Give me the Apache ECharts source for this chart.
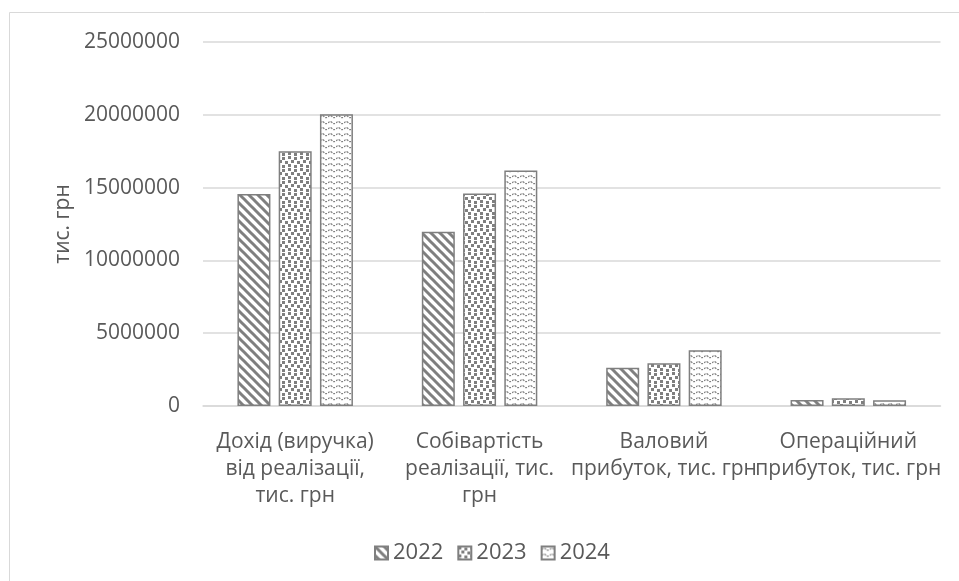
<!DOCTYPE html>
<html>
<head>
<meta charset="utf-8">
<script src="https://cdn.jsdelivr.net/npm/echarts@6/dist/echarts.min.js"></script>
<style>
html,body{margin:0;padding:0;background:#fff;}
#chart{width:959px;height:581px;}
</style>
</head>
<body>
<div id="chart"></div>
<script>
const categories = [
  "Дохід (виручка)\nвід реалізації,\nтис. грн",
  "Собівартість\nреалізації, тис.\nгрн",
  "Валовий\nприбуток, тис. грн",
  "Операційний\nприбуток, тис. грн"
];
const seriesNames = ["2022", "2023", "2024"];
const values2022 = [14560000, 11960000, 2630000, 410000];
const values2023 = [17500000, 14600000, 2930000, 530000];
const values2024 = [20040000, 16180000, 3830000, 390000];
const yTicks = { min: 0, max: 25000000, interval: 5000000 };

const GRAY = '#7f7f7f';
function makeCanvas(w, h) {
  const c = document.createElement('canvas');
  c.width = w; c.height = h;
  const ctx = c.getContext('2d');
  ctx.fillStyle = '#fff';
  ctx.fillRect(0, 0, w, h);
  return [c, ctx];
}
function stripePattern() {
  const [c, ctx] = makeCanvas(9, 9);
  ctx.strokeStyle = GRAY;
  ctx.lineWidth = 3;
  for (let k = -1; k <= 1; k++) {
    ctx.beginPath();
    ctx.moveTo(k * 9 - 2, -2);
    ctx.lineTo(k * 9 + 11, 11);
    ctx.stroke();
  }
  return c;
}
function squarePattern() {
  const [c, ctx] = makeCanvas(12, 12);
  ctx.fillStyle = GRAY;
  const pts = [[0,0],[6,1],[3,4],[9,5],[0,8],[6,9]];
  pts.forEach(p => ctx.fillRect(p[0], p[1], 3, 3));
  return c;
}
function wavePattern() {
  const [c, ctx] = makeCanvas(8, 6);
  ctx.strokeStyle = GRAY;
  ctx.lineWidth = 1.1;
  ctx.setLineDash([2, 1]);
  ctx.beginPath();
  ctx.moveTo(0, 3);
  ctx.quadraticCurveTo(2, 0.5, 4, 2.5);
  ctx.quadraticCurveTo(6, 4.5, 8, 3);
  ctx.stroke();
  return c;
}
const patterns = [stripePattern(), squarePattern(), wavePattern()];
const dataSets = [values2022, values2023, values2024];

const chart = echarts.init(document.getElementById('chart'), null, { renderer: 'canvas' });
const font = '"Open Sans", "Noto Sans", sans-serif';
chart.setOption({
  animation: false,
  backgroundColor: '#fff',
  textStyle: { fontFamily: font },
  graphic: [{
    type: 'rect', shape: { x: 9.5, y: 12.5, width: 970, height: 600 },
    style: { fill: 'none', stroke: '#d9d9d9', lineWidth: 1 }, silent: true
  }],
  grid: { left: 203, right: 18.5, top: 42, bottom: 175 },
  legend: {
    top: 537, left: 369,
    itemWidth: 13, itemHeight: 13, itemGap: 14,
    icon: 'rect',
    textStyle: { fontSize: 22, color: '#595959', fontFamily: font },
    data: seriesNames
  },
  xAxis: {
    type: 'category', data: categories,
    axisLine: { lineStyle: { color: '#d9d9d9', width: 1.5 } },
    axisTick: { show: false },
    axisLabel: { interval: 0, color: '#595959', fontSize: 21, lineHeight: 27, margin: 23, fontFamily: font }
  },
  yAxis: {
    type: 'value', min: yTicks.min, max: yTicks.max, interval: yTicks.interval,
    name: 'тис. грн', nameLocation: 'middle', nameRotate: 90, nameGap: 129,
    nameTextStyle: { fontSize: 21, color: '#595959', fontFamily: font },
    axisLine: { show: false }, axisTick: { show: false },
    axisLabel: { color: '#595959', fontSize: 21, margin: 23, fontFamily: font, formatter: v => String(v) },
    splitLine: { lineStyle: { color: '#d9d9d9', width: 1.5 } }
  },
  series: seriesNames.map((n, i) => ({
    name: n, type: 'bar', data: dataSets[i],
    barWidth: 33, barGap: '25%',
    itemStyle: { color: { image: patterns[i], repeat: 'repeat' }, borderColor: GRAY, borderWidth: 1.5 }
  }))
});
</script>
</body>
</html>
